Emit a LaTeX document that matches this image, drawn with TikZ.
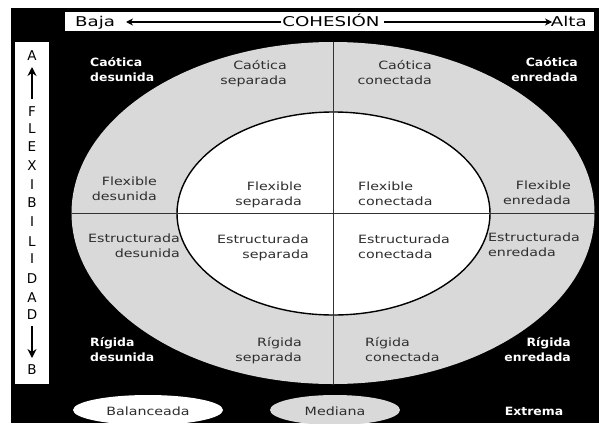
\documentclass[tikz,border=0pt]{standalone}
\usepackage{fontspec}
\setmainfont{DejaVu Sans}
\usepackage{graphicx}
\usetikzlibrary{arrows.meta}
\definecolor{ring}{HTML}{D9D9D9}
\definecolor{ink}{HTML}{2E2E2E}
\newcommand{\lab}[3]{\scalebox{1.25}[1]{\begin{tabular}{@{}#1@{}}#2\\#3\end{tabular}}}
\newcommand{\blab}[3]{\scalebox{1.09}[1]{\bfseries\begin{tabular}{@{}#1@{}}#2\\#3\end{tabular}}}
\begin{document}
\begin{tikzpicture}[x=1pt,y=-1pt,
  lbl/.style={inner sep=0pt, text=ink, font=\fontsize{11.4}{14.6}\selectfont},
  wlbl/.style={inner sep=0pt, text=white, font=\fontsize{11.4}{14.6}\selectfont},
  axl/.style={inner sep=0pt, text=black, font=\fontsize{13.5}{15}\selectfont},
  barl/.style={inner sep=0pt, text=black, font=\fontsize{13.5}{16}\selectfont},
  arrv/.style={line width=2pt, -{Stealth[length=9pt,width=9pt]}},
  arrh/.style={line width=1.5pt, -{Stealth[length=7pt,width=7pt]}},
  divl/.style={line width=1pt, draw=black!80}]
\useasboundingbox (0,0) rectangle (599,423);
\fill[white] (0,0) rectangle (599,423);
\fill[black] (11,8) rectangle (599,423);
% rings
\fill[ring] (333,213) ellipse [x radius=261.5pt, y radius=171pt];
\filldraw[fill=white, draw=black, line width=1.4pt] (333.5,213.5) ellipse [x radius=156.5pt, y radius=101.5pt];
\coordinate (hl) at (72,213);
\coordinate (hr) at (595,213);
\coordinate (vt) at (333,42);
\coordinate (vb) at (333,384);
\draw[divl] (hl) -- (hr);
\draw[divl] (vt) -- (vb);
% top bar
\fill[white] (65,12) rectangle (594,31);
\node[barl, anchor=base west] (baja) at (75,26.5) {\scalebox{1.35}[1]{Baja}};
\node[barl, anchor=base] (coh) at (331,26.5) {\scalebox{1.35}[1]{COHESIÓN}};
\node[barl, anchor=base east] (alta) at (587,26.5) {\scalebox{1.35}[1]{Alta}};
\coordinate (tl) at (126,22);
\coordinate (tr) at (552,22);
\coordinate (cl) at (281,22);
\coordinate (cr) at (384,22);
\draw[arrh] (cl) -- (tl);
\draw[arrh] (cr) -- (tr);
% left bar
\fill[white] (15,42) rectangle (49,384);
\node[axl] (a1) at (32,56) {A};
\node[axl] (f1) at (32,112) {F};
\node[axl] (l1) at (32,129) {L};
\node[axl] (e1) at (32,147) {E};
\node[axl] (x1) at (32,166) {X};
\node[axl] (i1) at (32,185) {I};
\node[axl] (b1) at (32,203) {B};
\node[axl] (i2) at (32,222) {I};
\node[axl] (l2) at (32,242) {L};
\node[axl] (i3) at (32,259) {I};
\node[axl] (d1) at (32,279) {D};
\node[axl] (a2) at (32,298) {A};
\node[axl] (d2) at (32,315) {D};
\node[axl] (b2) at (32,370) {B};
\coordinate (upb) at (32,99);
\coordinate (upt) at (32,67);
\coordinate (dnt) at (32,326);
\coordinate (dnb) at (32,358);
\draw[arrv] (upb) -- (upt);
\draw[arrv] (dnt) -- (dnb);
% quadrant labels
\node[wlbl, anchor=west] (cdes) at (90,71) {\blab{l}{Caótica}{desunida}};
\node[lbl, anchor=east] (csep) at (287,74) {\lab{r}{Caótica}{separada}};
\node[lbl, anchor=east] (ccon) at (432,74) {\lab{r}{Caótica}{conectada}};
\node[wlbl, anchor=east] (cenr) at (578,71) {\blab{r}{Caótica}{enredada}};
\node[lbl, anchor=east] (fdes) at (157,190) {\lab{r}{Flexible}{desunida}};
\node[lbl, anchor=east] (fsep) at (302,195) {\lab{r}{Flexible}{separada}};
\node[lbl, anchor=west] (fcon) at (358,195) {\lab{l}{Flexible}{conectada}};
\node[lbl, anchor=east] (fenr) at (571,194) {\lab{r}{Flexible}{enredada}};
\node[lbl, anchor=east] (edes) at (180,247) {\lab{r}{Estructurada}{desunida}};
\node[lbl, anchor=east] (esep) at (309,248) {\lab{r}{Estructurada}{separada}};
\node[lbl, anchor=west] (econ) at (358,248) {\lab{l}{Estructurada}{conectada}};
\node[lbl, anchor=west] (eenr) at (488,246) {\lab{l}{Estructurada}{enredada}};
\node[wlbl, anchor=west] (rdes) at (90,351) {\blab{l}{Rígida}{desunida}};
\node[lbl, anchor=east] (rsep) at (302,351) {\lab{r}{Rígida}{separada}};
\node[lbl, anchor=west] (rcon) at (365,351) {\lab{l}{Rígida}{conectada}};
\node[wlbl, anchor=east] (renr) at (571,351) {\blab{r}{Rígida}{enredada}};
% legend
\begin{scope}
\clip (0,0) rectangle (599,423);
\fill[white] (148,410) ellipse [x radius=75pt, y radius=15pt];
\fill[ring] (335,410) ellipse [x radius=65pt, y radius=15pt];
\end{scope}
\node[lbl] (bal) at (148,411) {\scalebox{1.25}[1]{Balanceada}};
\node[lbl] (med) at (335,411) {\scalebox{1.25}[1]{Mediana}};
\node[wlbl] (ext) at (534,411) {\scalebox{1.09}[1]{\bfseries Extrema}};
\end{tikzpicture}
\end{document}
